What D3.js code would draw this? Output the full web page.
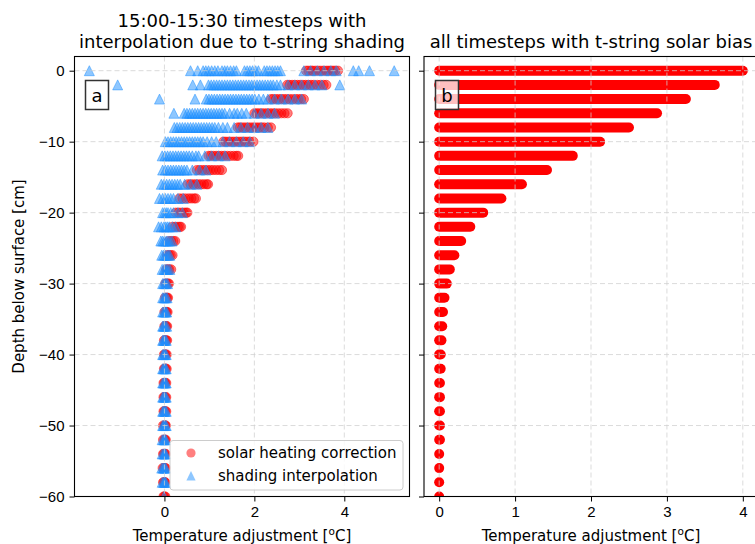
<!DOCTYPE html>
<html>
<head>
<meta charset="utf-8">
<script src="https://cdn.jsdelivr.net/npm/d3@7"></script>
<style>
  body { margin: 0; background: #fff; }
  svg { font-family: "DejaVu Sans", sans-serif; display: block; }
  .tick text { font-size: 15px; fill: #000; }
  .grid line { stroke: #cfcfcf; stroke-opacity: 0.75; stroke-dasharray: 5,3; }
</style>
</head>
<body>
<div id="chart"></div>
<script>
/* two-panel depth profile: left = shading interpolation, right = solar bias */

const W = 755, H = 544;

// depth of each sensor row [cm]
const DEPTHS = [0, -2, -4, -6, -8, -10, -12, -14, -16, -18, -20, -22, -24, -26, -28, -30,
  -32, -34, -36, -38, -40, -42, -44, -46, -48, -50, -52, -54, -56, -58, -60];

// panel a: solar heating correction per row (red circles)
const SOLAR_CORR = [
  [3.15, 3.2, 3.26, 3.3, 3.36, 3.42, 3.48, 3.54, 3.6, 3.65, 3.7, 3.75, 3.8, 3.86],
  [2.73, 2.78, 2.84, 2.9, 2.96, 3.02, 3.08, 3.14, 3.2, 3.26, 3.32, 3.4, 3.47, 3.54, 3.6],
  [2.37, 2.42, 2.48, 2.54, 2.6, 2.66, 2.72, 2.78, 2.85, 2.92, 2.98, 3.04, 3.1],
  [2.0, 2.05, 2.1, 2.16, 2.22, 2.28, 2.34, 2.4, 2.46, 2.53, 2.6, 2.67, 2.74],
  [1.63, 1.68, 1.74, 1.8, 1.86, 1.92, 1.98, 2.04, 2.1, 2.16, 2.22, 2.3, 2.37],
  [1.31, 1.36, 1.42, 1.48, 1.54, 1.6, 1.66, 1.72, 1.78, 1.84, 1.9, 1.98],
  [0.98, 1.03, 1.09, 1.15, 1.21, 1.27, 1.33, 1.4, 1.47, 1.54, 1.6, 1.64],
  [0.72, 0.78, 0.84, 0.9, 0.96, 1.02, 1.08, 1.15, 1.22, 1.28],
  [0.52, 0.58, 0.64, 0.7, 0.76, 0.82, 0.88, 0.94, 0.97],
  [0.33, 0.4, 0.47, 0.54, 0.6, 0.66, 0.7],
  [0.25, 0.31, 0.37, 0.43, 0.48, 0.51],
  [0.18, 0.24, 0.3, 0.34, 0.37],
  [0.1, 0.15, 0.2, 0.24],
  [0.06, 0.1, 0.14, 0.18],
  [0.04, 0.08, 0.11, 0.15],
  [0.02, 0.05, 0.08, 0.1],
  [0.01, 0.04, 0.06, 0.08],
  [0.0, 0.03, 0.05, 0.07],
  [0.0, 0.02, 0.04, 0.06],
  [-0.01, 0.02, 0.04, 0.06],
  [-0.01, 0.01, 0.03, 0.05],
  [-0.01, 0.01, 0.03, 0.05],
  [-0.02, 0.0, 0.02, 0.04],
  [-0.02, 0.0, 0.02, 0.04],
  [-0.02, 0.0, 0.02, 0.04],
  [-0.03, 0.0, 0.02, 0.03],
  [-0.03, 0.0, 0.01, 0.03],
  [-0.03, -0.01, 0.01, 0.03],
  [-0.04, -0.01, 0.01, 0.03],
  [-0.03, -0.01, 0.01, 0.02],
  [-0.02, 0.0, 0.02]
];

// panel a: shading interpolation per row (blue triangles)
const SHADE_INTERP = [
  [-1.67, 0.58, 0.74, 0.86, 0.92, 0.98, 1.05, 1.12, 1.19, 1.28, 1.34, 1.4, 1.47, 1.54, 1.6,
    1.78, 1.84, 1.9, 1.96, 2.03, 2.09, 2.22, 2.28, 2.34, 2.4, 2.46, 2.52, 2.58, 3.1, 3.25,
    3.4, 3.55, 3.7, 3.82, 4.2, 4.32, 4.56, 5.11],
  [-1.04, 0.63, 0.8, 0.98, 1.04, 1.1, 1.16, 1.22, 1.28, 1.34, 1.4, 1.46, 1.52, 1.58, 1.64,
    1.7, 1.76, 1.82, 1.88, 1.94, 2.0, 2.06, 2.12, 2.18, 2.24, 2.3, 2.36, 2.42, 2.5, 2.58,
    2.75, 2.9, 3.05, 3.2, 3.35, 3.5, 3.9],
  [-0.11, 0.68, 0.93, 0.99, 1.05, 1.11, 1.17, 1.23, 1.29, 1.35, 1.41, 1.47, 1.53, 1.59,
    1.65, 1.71, 1.77, 1.83, 1.89, 1.95, 2.01, 2.1, 2.2, 2.3, 2.45, 2.6, 2.75, 2.9, 3.05],
  [0.21, 0.44, 0.5, 0.56, 0.62, 0.68, 0.74, 0.8, 0.86, 0.92, 0.98, 1.04, 1.1, 1.16, 1.22,
    1.28, 1.34, 1.45, 1.55, 1.62, 1.72, 1.82, 2.0, 2.15, 2.3, 2.45],
  [0.22, 0.28, 0.34, 0.4, 0.46, 0.52, 0.58, 0.64, 0.7, 0.76, 0.82, 0.88, 0.94, 1.0, 1.06,
    1.12, 1.2, 1.3, 1.4, 1.55, 1.7, 1.85, 2.0, 2.15, 2.3],
  [0.02, 0.08, 0.14, 0.2, 0.26, 0.32, 0.38, 0.44, 0.5, 0.56, 0.62, 0.68, 0.74, 0.8, 0.86,
    0.95, 1.05, 1.15, 1.3, 1.45, 1.6, 1.75, 1.9],
  [-0.05, 0.01, 0.07, 0.13, 0.19, 0.25, 0.31, 0.37, 0.43, 0.49, 0.55, 0.62, 0.7, 0.76, 0.9,
    1.05, 1.2, 1.35],
  [-0.04, 0.02, 0.08, 0.14, 0.2, 0.26, 0.32, 0.38, 0.44, 0.5, 0.62, 0.78, 0.92],
  [-0.07, -0.01, 0.05, 0.11, 0.17, 0.23, 0.29, 0.35, 0.45, 0.58, 0.72],
  [-0.11, -0.04, 0.02, 0.08, 0.14, 0.2, 0.3, 0.42],
  [-0.04, 0.0, 0.04, 0.08, 0.14, 0.2, 0.3, 0.4],
  [-0.13, -0.07, -0.01, 0.03, 0.07, 0.11, 0.18, 0.25],
  [-0.08, -0.04, 0.0, 0.04, 0.08, 0.12, 0.17],
  [-0.06, -0.02, 0.02, 0.06, 0.09, 0.12],
  [-0.05, -0.01, 0.02, 0.05, 0.08, 0.12],
  [-0.04, -0.01, 0.02, 0.04, 0.07],
  [-0.04, -0.01, 0.01, 0.03, 0.06],
  [-0.04, -0.01, 0.01, 0.03, 0.05],
  [-0.04, -0.02, 0.0, 0.02, 0.05],
  [-0.04, -0.02, 0.0, 0.02, 0.04],
  [-0.04, -0.02, 0.0, 0.02, 0.04],
  [-0.04, -0.02, 0.0, 0.02, 0.04],
  [-0.04, -0.02, 0.0, 0.02, 0.04],
  [-0.04, -0.02, 0.0, 0.02, 0.04],
  [-0.04, -0.02, 0.0, 0.02, 0.04],
  [-0.04, -0.02, 0.0, 0.02, 0.04],
  [-0.05, -0.02, 0.0, 0.01, 0.03],
  [-0.05, -0.02, 0.0, 0.01, 0.03],
  [-0.06, -0.03, -0.01, 0.01, 0.03],
  [-0.05, -0.02, 0.0, 0.01, 0.03],
  [-0.01]
];

// panel b: range of the solar bias adjustment at each depth
const BIAS_MIN = DEPTHS.map(() => 0);
const BIAS_MAX = [4.0, 3.63, 3.25, 2.87, 2.5, 2.12, 1.76, 1.42, 1.09, 0.82, 0.58, 0.41, 0.29,
  0.2, 0.14, 0.1, 0.07, 0.05, 0.04, 0.03, 0.02, 0.02, 0.01, 0.01, 0.01, 0.01, 0.01, 0.0,
  0.0, 0.0, 0.0];

const X_TICKS_A = [0, 2, 4];
const X_TICKS_B = [0, 1, 2, 3, 4];
const Y_TICKS = [0, -10, -20, -30, -40, -50, -60];

const RED = "#ff0000", BLUE = "#1e90ff";
const R = 5; // marker radius in px

const svg = d3.select("#chart").append("svg").attr("width", W).attr("height", H);

const PLOT_TOP = 56.5, PLOT_BOTTOM = 496.5;
const y = d3.scaleLinear().domain([-60, 2]).range([PLOT_BOTTOM, PLOT_TOP]);

const xa = d3.scaleLinear().domain([-2.0, 5.45]).range([74.5, 409.5]);
const xb = d3.scaleLinear().domain([-0.2, 4.2]).range([424, 758]);

function triangle(cx, cy) {
  return `M${cx},${cy - R}L${cx - R},${cy + R}L${cx + R},${cy + R}Z`;
}

function panel(x, xTicks, showYLabels) {
  const g = svg.append("g");
  const x0 = x.range()[0], x1 = x.range()[1];
  const clipId = "clip" + Math.round(x0);
  svg.append("clipPath").attr("id", clipId).append("rect")
    .attr("x", x0).attr("y", PLOT_TOP)
    .attr("width", x1 - x0).attr("height", PLOT_BOTTOM - PLOT_TOP);
  const plot = g.append("g").attr("clip-path", `url(#${clipId})`);
  const marks = plot.append("g");
  // grid sits above the markers, like matplotlib's default zorder
  const grid = plot.append("g").attr("class", "grid");
  grid.selectAll(".gx").data(xTicks).join("line").attr("class", "gx")
    .attr("x1", d => x(d)).attr("x2", d => x(d)).attr("y1", PLOT_TOP).attr("y2", PLOT_BOTTOM);
  grid.selectAll(".gy").data(Y_TICKS).join("line").attr("class", "gy")
    .attr("x1", x0).attr("x2", x1).attr("y1", d => y(d)).attr("y2", d => y(d));

  g.append("g").attr("transform", `translate(0,${PLOT_BOTTOM})`)
    .call(d3.axisBottom(x).tickValues(xTicks).tickSize(5).tickPadding(5).tickFormat(d3.format("d")))
    .call(a => a.select(".domain").remove());
  g.append("g").attr("transform", `translate(${x0},0)`)
    .call(d3.axisLeft(y).tickValues(Y_TICKS).tickSize(5).tickPadding(5)
      .tickFormat(showYLabels ? d => d3.format("d")(d).replace("-", "\u2212") : ""))
    .call(a => a.select(".domain").remove());

  g.append("rect").attr("x", x0).attr("y", PLOT_TOP)
    .attr("width", x1 - x0).attr("height", PLOT_BOTTOM - PLOT_TOP)
    .attr("fill", "none").attr("stroke", "#000").attr("stroke-width", 1.1);

  const lab = g.append("text").attr("x", (x0 + x1) / 2)
    .attr("y", 541).attr("text-anchor", "middle").attr("font-size", 15)
    .text("Temperature adjustment [");
  lab.append("tspan").attr("font-size", 10.5).attr("dy", -6).text("o");
  lab.append("tspan").attr("dy", 6).text("C]");
  return marks;
}

/* ---------- panel a ---------- */
const marksA = panel(xa, X_TICKS_A, true);
const solarPts = DEPTHS.flatMap((dep, i) => SOLAR_CORR[i].map(v => ({ v, dep })));
const shadePts = DEPTHS.flatMap((dep, i) => SHADE_INTERP[i].map(v => ({ v, dep })));

marksA.selectAll(".sol").data(solarPts).join("circle").attr("class", "sol")
  .attr("cx", d => xa(d.v)).attr("cy", d => y(d.dep)).attr("r", R - 0.4)
  .attr("fill", RED).attr("fill-opacity", 0.5)
  .attr("stroke", RED).attr("stroke-opacity", 0.5).attr("stroke-width", 1);
marksA.selectAll(".sh").data(shadePts).join("path").attr("class", "sh")
  .attr("d", d => triangle(xa(d.v), y(d.dep)))
  .attr("fill", BLUE).attr("fill-opacity", 0.5)
  .attr("stroke", BLUE).attr("stroke-opacity", 0.5).attr("stroke-width", 1)
  .attr("stroke-linejoin", "round");

/* ---------- panel b ---------- */
const marksB = panel(xb, X_TICKS_B, false);
marksB.selectAll(".bias").data(DEPTHS).join("line").attr("class", "bias")
  .attr("x1", (d, i) => xb(BIAS_MIN[i])).attr("x2", (d, i) => xb(BIAS_MAX[i]))
  .attr("y1", d => y(d)).attr("y2", d => y(d))
  .attr("stroke", RED).attr("stroke-width", 2 * R).attr("stroke-linecap", "round");

/* ---------- panel letters ---------- */
function letter(lx, txt) {
  svg.append("rect").attr("x", lx).attr("y", 80.5).attr("width", 23).attr("height", 29)
    .attr("fill", "#fff").attr("fill-opacity", 0.75).attr("stroke", "#333").attr("stroke-width", 1.5);
  svg.append("text").attr("x", lx + 11.5).attr("y", 102).attr("text-anchor", "middle")
    .attr("font-size", 18).text(txt);
}
letter(85.5, "a");
letter(435.5, "b");

/* ---------- legend ---------- */
const leg = svg.append("g");
leg.append("rect").attr("x", 170).attr("y", 440.5).attr("width", 233).attr("height", 49.5)
  .attr("rx", 3).attr("fill", "#fff").attr("fill-opacity", 0.8)
  .attr("stroke", "#cccccc").attr("stroke-width", 1);
leg.append("circle").attr("cx", 191).attr("cy", 453).attr("r", 4.6)
  .attr("fill", RED).attr("fill-opacity", 0.5);
leg.append("path").attr("d", "M191,471L186.4,480.5L195.6,480.5Z")
  .attr("fill", BLUE).attr("fill-opacity", 0.5);
leg.append("text").attr("x", 218).attr("y", 458).attr("font-size", 15).text("solar heating correction");
leg.append("text").attr("x", 218).attr("y", 481).attr("font-size", 15).text("shading interpolation");

/* ---------- titles / y label ---------- */
svg.append("text").attr("x", 242).attr("y", 27).attr("text-anchor", "middle")
  .attr("font-size", 18).text("15:00-15:30 timesteps with");
svg.append("text").attr("x", 242).attr("y", 48).attr("text-anchor", "middle")
  .attr("font-size", 18).text("interpolation due to t-string shading");
svg.append("text").attr("x", 591).attr("y", 48).attr("text-anchor", "middle")
  .attr("font-size", 18).text("all timesteps with t-string solar bias");

svg.append("text").attr("transform", `translate(24,${(PLOT_TOP + PLOT_BOTTOM) / 2}) rotate(-90)`)
  .attr("text-anchor", "middle").attr("font-size", 15).text("Depth below surface [cm]");
</script>
</body>
</html>
